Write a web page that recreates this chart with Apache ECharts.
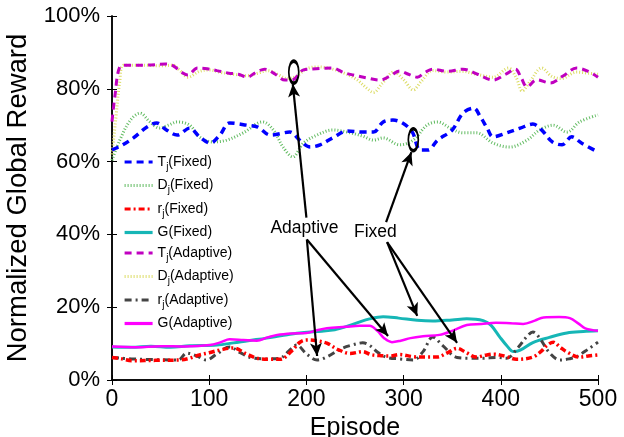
<!DOCTYPE html>
<html>
<head>
<meta charset="utf-8">
<script src="https://cdn.jsdelivr.net/npm/echarts@6/dist/echarts.min.js"></script>
<style>
  html, body { margin: 0; padding: 0; background: #fff; }
  #chart { width: 624px; height: 437px; }
</style>
</head>
<body>
<div id="chart"></div>
<script>
// episode / percent pairs
const tFixed = [[0,63.2],[11,64.6],[22,66.5],[36,69.5],[46,70.6],[56,68.7],[67,67.3],[80,69.2],[90,66.8],[101,65.1],[111,67.3],[121,70.6],[139,70],[150,69.5],[163,67.3],[183,68.1],[193,65.9],[204,64],[214,64.6],[227,66.5],[242,68.4],[258,68.1],[269,68.1],[279,70.9],[289,71.4],[299,70.6],[309,68.1],[317,63.2],[325,63.2],[335,65.9],[350,68.7],[361,73.3],[372,74.7],[379,72.3],[386,69.2],[392,66.8],[406,67.9],[420,69.2],[433,70.3],[442,68.7],[453,65.4],[463,64.6],[473,66.8],[483,65.1],[500,62.6]];
const dFixed = [[0,60.4],[8,65.9],[19,71.4],[29,73.3],[39,70.9],[49,69.2],[58,70],[67,70.9],[80,70],[90,66.8],[104,65.4],[118,65.9],[135,67.9],[155,70.9],[166,68.7],[176,64],[186,61.3],[197,65.1],[211,67.3],[227,68.7],[242,68.1],[258,67],[269,65.9],[279,66.5],[296,64.6],[310,65.9],[324,70],[335,70.9],[348,69.2],[361,67.9],[375,67.9],[392,65.1],[409,64],[427,65.9],[440,68.7],[454,70],[468,68.1],[481,70.9],[500,72.8]];
const rFixed = [[0,6.2],[10,5.8],[22,5.3],[45,5.4],[70,5.5],[80,6],[90,6.9],[100,7.5],[112,8.3],[125,8.8],[138,7.2],[149,6],[160,5.7],[173,5.7],[185,8],[193,10.3],[200,11],[210,10.8],[221,10.1],[233,8.3],[245,7.3],[258,7.8],[266,7],[275,6.7],[286,6.6],[296,7],[310,6.4],[322,6.3],[334,6.3],[346,7.6],[355,8.7],[364,7.6],[375,6.3],[384,6.8],[393,7.1],[405,6.5],[416,5.7],[433,6.3],[442,8],[448,9.6],[454,10.4],[461,9],[468,7.7],[481,6.3],[490,6.6],[500,6.9]];
const gFixed = [[0,9.1],[20,9.0],[40,9.3],[60,9.0],[80,9.4],[108,9.6],[125,10.2],[140,10.8],[159,11.5],[175,12.2],[193,12.9],[210,13.3],[227,13.7],[240,14.6],[252,15.7],[265,16.8],[279,17.4],[295,17],[314,16.4],[330,16.2],[350,16.5],[365,16.8],[382,16.3],[390,15],[399,11.8],[406,9.5],[413,7.8],[420,8.2],[433,10.3],[450,11.7],[468,12.9],[485,13.3],[500,13.5]];
const tAdaptive = [[0,71],[3,78],[8,86],[15,86.5],[35,86.5],[55,86.8],[63,86.3],[72,84.5],[78,83.8],[88,85.7],[98,85.5],[108,85],[120,84.3],[130,84],[139,83.2],[148,84.5],[157,85.4],[168,84],[178,82.4],[186,82.5],[197,85.2],[210,85.5],[227,85.7],[238,84.5],[248,83.8],[262,83],[276,82.4],[286,83.5],[296,84.9],[305,84],[314,83.2],[322,84.5],[330,85.4],[345,84.8],[361,85.4],[376,84],[392,82.4],[405,84],[415,85.4],[421,83],[427,80.5],[437,82.5],[451,81.6],[464,83.5],[478,85.7],[490,84.8],[500,83.2]];
const dAdaptive = [[0,62],[4,72],[8,82],[12,86.5],[30,86.5],[50,86.3],[63,86.5],[70,85],[78,83.2],[90,84.8],[100,85.2],[112,84.5],[125,84],[139,83.6],[150,84.3],[160,85],[170,84],[180,82.8],[190,83.5],[200,85.5],[212,86],[227,85.4],[240,84.2],[252,82.5],[262,80.2],[269,79],[278,81.5],[290,84.6],[300,82.5],[310,79.7],[318,82],[330,85],[345,84.6],[360,84.8],[375,84],[392,83.2],[408,85.7],[416,83],[422,79.4],[430,82],[442,85.7],[452,83.5],[462,82.8],[478,84.6],[490,84.3],[500,84]];
const rAdaptive = [[0,6.2],[20,5.8],[45,5.6],[68,5.5],[77,7.4],[88,6.5],[97,5.5],[108,7.2],[121,9.1],[132,7.5],[145,6],[160,5.8],[173,6],[182,8],[190,9.6],[200,7.2],[211,5.5],[222,6.5],[235,8.5],[247,9.6],[258,10.2],[265,9.5],[274,7.5],[283,6.2],[296,5.8],[310,5.5],[320,7.8],[330,11.8],[340,9.5],[355,6.2],[368,6],[382,6],[395,6.2],[406,6],[418,9],[427,12],[433,13.2],[440,11.5],[450,7.5],[461,5.5],[470,5.8],[478,6.4],[490,8.5],[500,10.4]];
const gAdaptive = [[0,9.2],[25,9.0],[50,9.3],[75,9.2],[101,9.6],[112,10.4],[121,11.2],[135,11],[149,10.8],[160,11.7],[170,12.4],[185,12.8],[200,12.9],[210,13.6],[221,14.2],[240,14.6],[255,14.9],[265,14.9],[273,13.5],[280,11.5],[288,10.4],[297,10.8],[307,11.5],[320,12],[337,12.4],[350,13.5],[365,15.1],[380,15.4],[395,15.7],[410,15.6],[423,15.4],[435,16.3],[444,17.2],[460,17.3],[471,17],[480,15.5],[487,14.2],[500,13.5]];

const xTicks = [0, 100, 200, 300, 400, 500];
const yTicks = [0, 20, 40, 60, 80, 100];

// annotations (episode, percent)
const labelAdaptive = [198, 41.8];
const labelFixed = [271, 40.7];
const ellipses = [[187, 84.6], [310, 66]];
const arrowsAdaptive = [
  [[200, 44.6], [186, 81.3]],
  [[200.5, 38.6], [211, 6.6]],
  [[200.5, 38.6], [284, 12.1]]
];
const arrowsFixed = [
  [[282, 43.4], [308, 62.6]],
  [[283, 37.9], [314, 17.6]],
  [[283, 37.9], [355, 10.2]]
];

const FONT = '"Liberation Sans", Arial, Helvetica, sans-serif';

function line(name, data, color, width, dash, z) {
  return {
    name: name,
    type: 'line',
    data: data,
    smooth: 0.35,
    showSymbol: false,
    symbol: 'none',
    color: color,
    z: z || 2,
    lineStyle: { color: color, width: width, type: dash || 'solid' }
  };
}

const chart = echarts.init(document.getElementById('chart'));

const axisBase = {
  axisLine: { show: true, lineStyle: { color: '#000', width: 1.5 } },
  axisTick: { show: true, inside: true, length: 5, lineStyle: { color: '#000', width: 1 } },
  splitLine: { show: false }
};

chart.setOption({
  animation: false,
  textStyle: { fontFamily: FONT },
  grid: { left: 112, right: 26, top: 16, bottom: 57, containLabel: false, outerBoundsMode: 'none' },
  xAxis: [
    Object.assign({}, axisBase, {
      type: 'value', min: xTicks[0], max: xTicks[xTicks.length - 1], interval: 100,
      name: 'Episode', nameLocation: 'middle', nameGap: 26,
      nameTextStyle: { fontSize: 25, color: '#000', fontFamily: FONT },
      axisLabel: { fontSize: 23, color: '#000', margin: 8, fontFamily: FONT }
    }),
    Object.assign({}, axisBase, {
      type: 'value', position: 'top', min: xTicks[0], max: xTicks[xTicks.length - 1], interval: 100,
      axisLabel: { show: false }
    })
  ],
  yAxis: [
    Object.assign({}, axisBase, {
      type: 'value', min: yTicks[0], max: yTicks[yTicks.length - 1], interval: 20,
      name: 'Normalized Global Reward', nameLocation: 'middle', nameGap: 76,
      nameTextStyle: { fontSize: 27.5, color: '#000', fontFamily: FONT },
      axisLabel: { fontSize: 22, color: '#000', margin: 12, formatter: '{value}%', fontFamily: FONT }
    }),
    Object.assign({}, axisBase, {
      type: 'value', position: 'right', min: yTicks[0], max: yTicks[yTicks.length - 1], interval: 20,
      axisLabel: { show: false }
    })
  ],
  legend: {
    data: ['T_j(Fixed)', 'D_j(Fixed)', 'r_j(Fixed)', 'G(Fixed)', 'T_j(Adaptive)', 'D_j(Adaptive)', 'r_j(Adaptive)', 'G(Adaptive)'],
    orient: 'vertical',
    left: 118,
    top: 150,
    itemWidth: 28,
    itemHeight: 14,
    itemGap: 6.5,
    itemStyle: { opacity: 0 },
    lineStyle: { width: 3.2 },
    formatter: function (name) {
      const m = name.match(/^(\w)_j(.*)$/);
      return m ? '{n|' + m[1] + '}{s|j}{n|' + m[2] + '}' : '{n|' + name + '}';
    },
    textStyle: {
      rich: {
        n: { fontSize: 14, color: '#000', fontFamily: FONT },
        s: { fontSize: 10, color: '#000', fontFamily: FONT, padding: [10, 0, 0, 0] }
      }
    }
  },
  series: [
    line('T_j(Fixed)', tFixed, '#0000ff', 3.5, [7, 5], 4),
    line('D_j(Fixed)', dFixed, '#62bb62', 3, [1, 2], 2),
    line('r_j(Fixed)', rFixed, '#ff0000', 3.5, [6, 3, 2, 3], 3),
    line('G(Fixed)', gFixed, '#16b6b6', 3, 'solid', 2),
    line('T_j(Adaptive)', tAdaptive, '#c000c0', 3, [7, 5], 4),
    line('D_j(Adaptive)', dAdaptive, '#dcdc66', 3, [1, 2], 2),
    line('r_j(Adaptive)', rAdaptive, '#444444', 3, [7, 4, 2, 4], 2),
    line('G(Adaptive)', gAdaptive, '#ff00ff', 2.5, 'solid', 3),
    {
      name: 'annotations',
      type: 'scatter',
      silent: true,
      symbol: 'circle',
      symbolSize: [10, 22],
      itemStyle: { color: 'transparent', borderColor: '#000', borderWidth: 2.5, opacity: 1 },
      data: ellipses,
      z: 10,
      markLine: {
        silent: true,
        symbol: ['none', 'arrow'],
        symbolSize: [9, 13],
        label: { show: false },
        lineStyle: { color: '#000', width: 2.2, type: 'solid', opacity: 1 },
        data: arrowsAdaptive.concat(arrowsFixed).map(function (a) {
          return [{ coord: a[0] }, { coord: a[1] }];
        })
      }
    },
    {
      name: 'labels',
      type: 'scatter',
      silent: true,
      symbolSize: 1,
      itemStyle: { color: 'transparent', opacity: 1 },
      label: {
        show: true, position: 'inside', formatter: '{b}',
        fontSize: 17.5, color: '#000', fontFamily: FONT
      },
      data: [
        { name: 'Adaptive', value: labelAdaptive },
        { name: 'Fixed', value: labelFixed }
      ],
      z: 11
    }
  ]
});
</script>
</body>
</html>
